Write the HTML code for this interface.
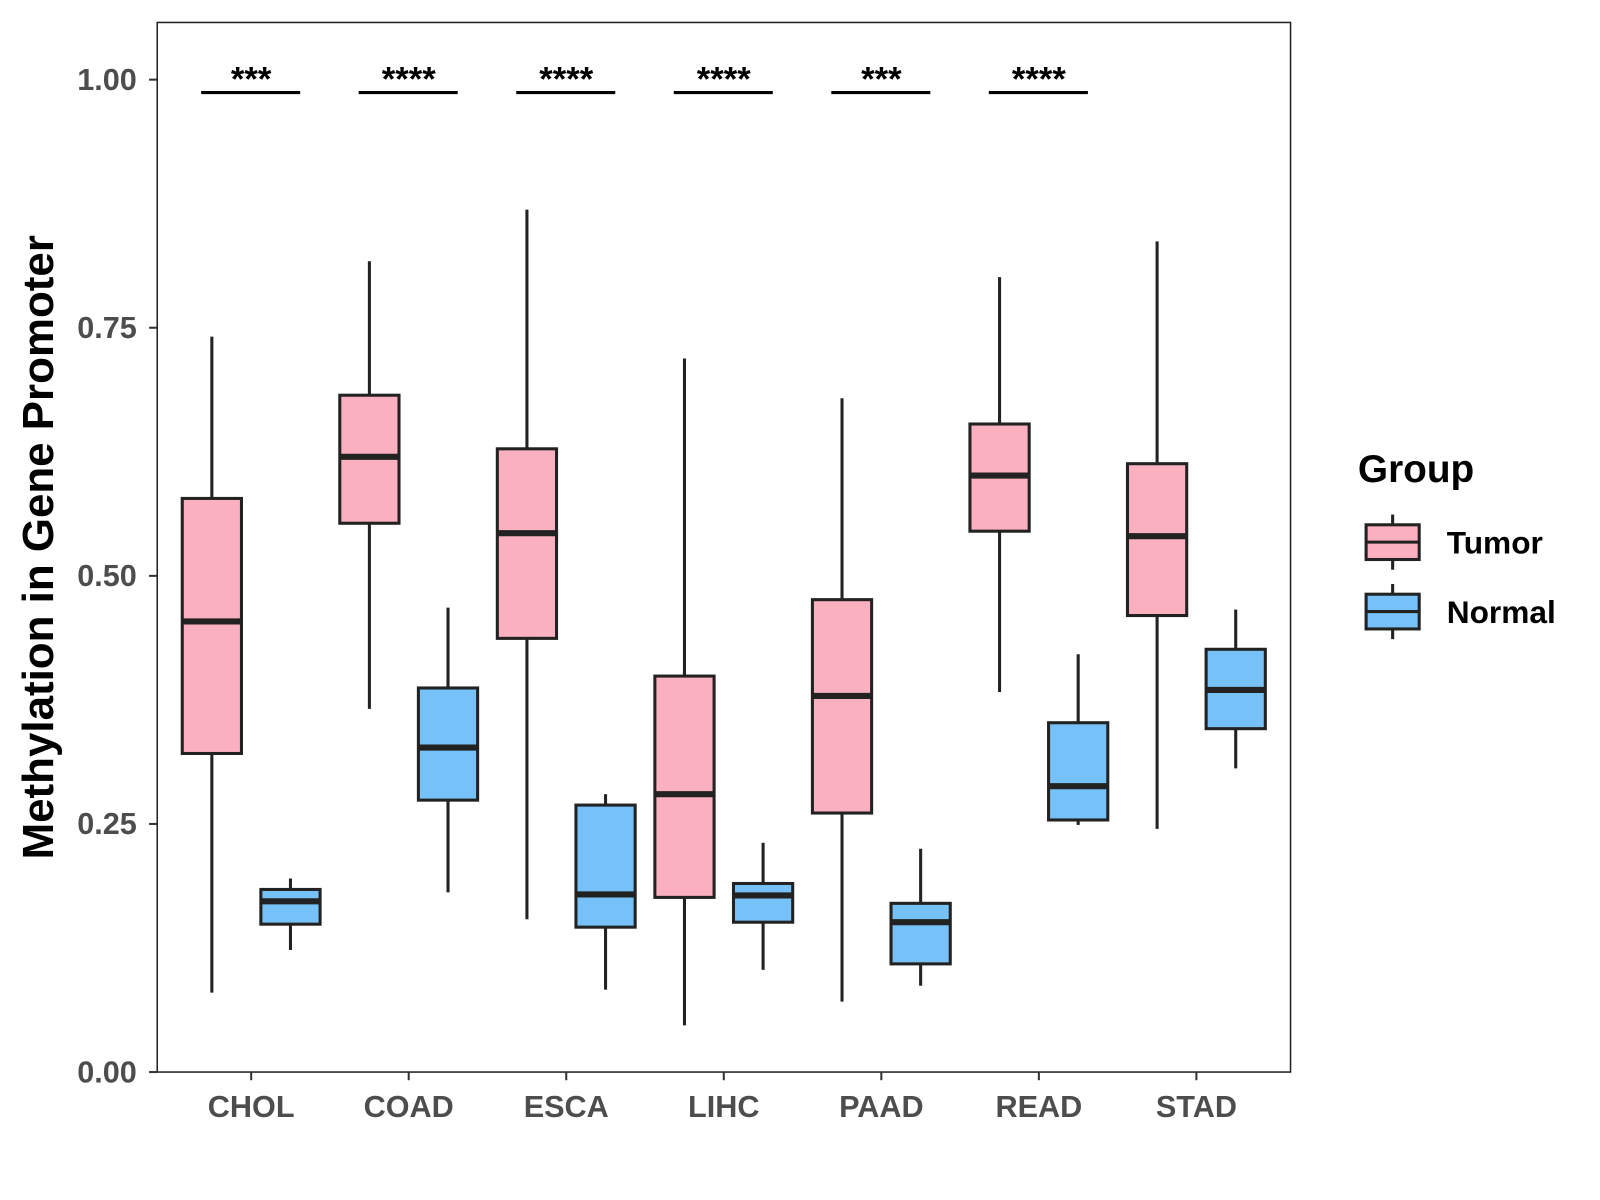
<!DOCTYPE html>
<html><head><meta charset="utf-8"><style>
html,body{margin:0;padding:0;background:#fff;}
svg{display:block;font-family:"Liberation Sans",Arial,sans-serif;}
</style></head><body>
<svg id="chart" width="1600" height="1200" viewBox="0 0 1600 1200"><g id="root" transform="scale(1.021)"></g></svg>
<script>
const categories = ["CHOL","COAD","ESCA","LIHC","PAAD","READ","STAD"];
const tumorLow  = [0.080,0.366,0.154,0.047,0.071,0.383,0.245];
const tumorQ1   = [0.321,0.553,0.437,0.176,0.261,0.545,0.460];
const tumorMed  = [0.454,0.620,0.543,0.280,0.379,0.601,0.540];
const tumorQ3   = [0.578,0.682,0.628,0.399,0.476,0.653,0.613];
const tumorHigh = [0.741,0.817,0.869,0.719,0.679,0.801,0.837];
const normalLow  = [0.123,0.181,0.083,0.103,0.087,0.249,0.306];
const normalQ1   = [0.149,0.274,0.146,0.151,0.109,0.254,0.346];
const normalMed  = [0.172,0.327,0.179,0.178,0.151,0.288,0.385];
const normalQ3   = [0.184,0.387,0.269,0.190,0.170,0.352,0.426];
const normalHigh = [0.195,0.468,0.280,0.231,0.225,0.421,0.466];
const sigLabels = ["***","****","****","****","***","****"];
const sigY = 0.988;
const yTicks = [0,0.25,0.5,0.75,1.0];
const yTickLabels = ["0.00","0.25","0.50","0.75","1.00"];

const NS="http://www.w3.org/2000/svg";
const svg=document.getElementById('root');
const L=154,R=1264,T=22,B=1050;
const y=v=>1050-v*972;
const x=i=>246+i*154.3;
function mk(tag,attrs,parent){const e=document.createElementNS(NS,tag);for(const k in attrs)e.setAttribute(k,attrs[k]);(parent||svg).appendChild(e);return e;}

const panel=mk('rect',{x:L,y:T,width:R-L,height:B-T,fill:'#fff',stroke:'#222','stroke-width':1.5});



yTicks.forEach((v,i)=>{
  const t=mk('line',{x1:L-8,x2:L,y1:y(v),y2:y(v),stroke:'#333','stroke-width':2});
  
  
  const lb=mk('text',{x:L-20,y:y(v)+10,'text-anchor':'end','font-size':30,'font-weight':'bold',fill:'#4d4d4d'});
  lb.textContent=yTickLabels[i];
  
  
});
const yt=mk('text',{x:0,y:0,transform:'translate(52,536) rotate(-90)','text-anchor':'middle','font-size':43,'font-weight':'bold',fill:'#000'});
yt.textContent='Methylation in Gene Promoter';



function box(cx,lo,q1,md,q3,hi,fill,name){
  const g=mk('g',{});
  
  
  mk('line',{x1:cx,x2:cx,y1:y(hi),y2:y(q3),stroke:'#222','stroke-width':3},g);
  mk('line',{x1:cx,x2:cx,y1:y(q1),y2:y(lo),stroke:'#222','stroke-width':3},g);
  mk('rect',{x:cx-29,y:y(q3),width:58,height:y(q1)-y(q3),fill:fill,stroke:'#222','stroke-width':3},g);
  mk('line',{x1:cx-29,x2:cx+29,y1:y(md),y2:y(md),stroke:'#222','stroke-width':6},g);
}
categories.forEach((c,i)=>{
  box(x(i)-38.5,tumorLow[i],tumorQ1[i],tumorMed[i],tumorQ3[i],tumorHigh[i],'#FBB0C0','tumor-box-'+c.toLowerCase());
  box(x(i)+38.5,normalLow[i],normalQ1[i],normalMed[i],normalQ3[i],normalHigh[i],'#76C1F7','normal-box-'+c.toLowerCase());
  const t=mk('line',{x1:x(i),x2:x(i),y1:B,y2:B+8,stroke:'#333','stroke-width':2});
  
  
  const lb=mk('text',{x:x(i),y:B+44,'text-anchor':'middle','font-size':30,'font-weight':'bold',fill:'#4d4d4d'});
  lb.textContent=c;
  
  
});
sigLabels.forEach((s,i)=>{
  const ln=mk('line',{x1:x(i)-49,x2:x(i)+48,y1:y(sigY)+1,y2:y(sigY)+1,stroke:'#000','stroke-width':3});
  
  
  const tx=mk('text',{x:x(i),y:y(sigY)-1,'text-anchor':'middle','font-size':34,'font-weight':'bold',fill:'#000'});
  tx.textContent=s;
  
  
});

const lt=mk('text',{x:1330,y:472,'font-size':38,'font-weight':'bold',fill:'#000'});
lt.textContent='Group';


[["Tumor",'#FBB0C0',514],["Normal",'#76C1F7',582]].forEach(([n,f,ty])=>{
  const g=mk('g',{});
  
  
  mk('line',{x1:1364,x2:1364,y1:ty-10,y2:ty+44,stroke:'#222','stroke-width':3},g);
  mk('rect',{x:1338,y:ty,width:52,height:34,fill:f,stroke:'#222','stroke-width':3},g);
  mk('line',{x1:1338,x2:1390,y1:ty+17,y2:ty+17,stroke:'#222','stroke-width':3},g);
  const t=mk('text',{x:1417,y:ty+28,'font-size':31,'font-weight':'bold',fill:'#000'},g);
  t.textContent=n;
});
</script>
</body></html>
